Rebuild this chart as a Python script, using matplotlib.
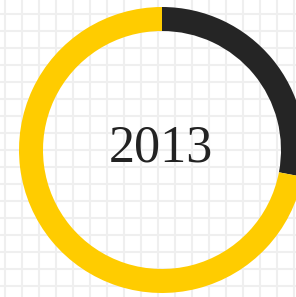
import matplotlib.pyplot as plt
import numpy as np

# share of the year (dark) vs the rest (yellow)
labels = ["done", "remaining"]
values = [28, 72]
colors = ["#252525", "#ffcc00"]
title = "2013"

W, H = 296, 297
fig = plt.figure(figsize=(W / 100, H / 100), dpi=100)
ax = fig.add_axes([0, 0, 1, 1])

ax.pie(values, colors=colors, center=(162, 147), radius=143,
       startangle=90, counterclock=False,
       wedgeprops=dict(width=24, linewidth=0))

# background grid, ~17px squares
ax.set_xticks(np.arange(4.5, W, 17))
ax.set_yticks(np.arange(H - 14, 0, -17))
ax.grid(True, color="#efefef", linewidth=1.5)
ax.set_axisbelow(True)
ax.tick_params(length=0, labelbottom=False, labelleft=False)
ax.set_frame_on(False)

ax.set_xlim(0, W)
ax.set_ylim(0, H)
ax.set_aspect("auto")

ax.text(161, 148, title, ha="center", va="center", fontsize=37.5,
        family="Liberation Serif", color="#222222")

fig.savefig("out.png", dpi=100, facecolor="white")
